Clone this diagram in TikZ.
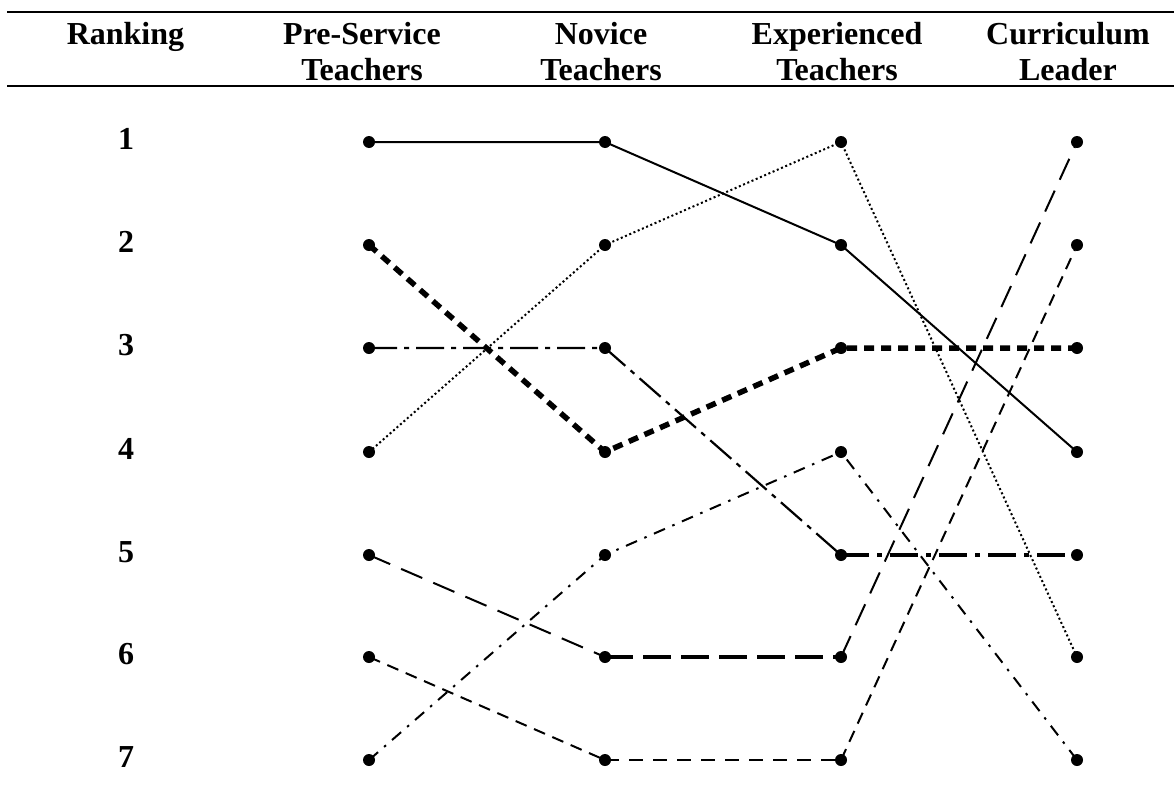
\documentclass[tikz,border=0pt]{standalone}
\usepackage{fontspec}
\setmainfont{Liberation Serif}
\begin{document}
\begin{tikzpicture}[x=1pt,y=-1pt,
  dotnode/.style={circle,fill=black,inner sep=0pt,minimum size=12pt},
  headtext/.style={font=\bfseries\fontsize{32}{36}\selectfont,align=center,inner sep=0pt,anchor=north},
  ranktext/.style={font=\bfseries\fontsize{32}{36}\selectfont,inner sep=0pt,anchor=base},
  rule/.style={line width=2.5pt},
  solidline/.style={line width=2pt},
  finedot/.style={line width=2pt,dash pattern=on 2pt off 2.6pt},
  thickdash/.style={line width=5.5pt,dash pattern=on 10pt off 7pt},
  longdashdot/.style={line width=2.2pt,dash pattern=on 28pt off 7pt on 5pt off 7pt},
  longdashdotthick/.style={line width=3.2pt,dash pattern=on 28pt off 8pt on 5pt off 8pt},
  shortdashdot/.style={line width=2pt,dash pattern=on 12pt off 8pt on 2.5pt off 8pt},
  longdash/.style={line width=2pt,dash pattern=on 23pt off 12pt},
  longdashthick/.style={line width=3.2pt,dash pattern=on 28pt off 10pt},
  shortdash/.style={line width=2pt,dash pattern=on 12pt off 8pt},
  shortdashthick/.style={line width=2.8pt,dash pattern=on 14pt off 10pt}
]
\useasboundingbox (0,0) rectangle (1174,806);
% rules
\coordinate (tl) at (7,12); \coordinate (tr) at (1174,12);
\coordinate (bl) at (7,86); \coordinate (br) at (1174,86);
\draw[rule] (tl) -- (tr);
\draw[rule] (bl) -- (br);
% headers
\node[headtext] (hr) at (125.5,21.6) {Ranking};
\node[headtext] (hp) at (362,21.6) {Pre-Service\\Teachers};
\node[headtext] (hn) at (601,21.6) {Novice\\Teachers};
\node[headtext] (he) at (837,21.6) {Experienced\\Teachers};
\node[headtext] (hc) at (1068,21.6) {Curriculum\\Leader};
% rank numbers and dots
\foreach \r/\yy in {1/142,2/245,3/348,4/452,5/555,6/657,7/760}{
  \node[ranktext] (r\r) at (126,\yy+7) {\r};
  \node[dotnode] (p\r) at (369,\yy) {};
  \node[dotnode] (n\r) at (605,\yy) {};
  \node[dotnode] (e\r) at (841,\yy) {};
  \node[dotnode] (c\r) at (1077,\yy) {};
}
% connectors
\draw[solidline] (p1.center) -- (n1.center) -- (e2.center) -- (c4.center);
\draw[finedot] (p4.center) -- (n2.center) -- (e1.center) -- (c6.center);
\draw[thickdash] (p2.center) -- (n4.center) -- (e3.center) -- (c3.center);
\draw[longdashdot] (p3.center) -- (n3.center) -- (e5.center);
\draw[longdashdotthick] (e5.center) -- (c5.center);
\draw[shortdashdot] (p7.center) -- (n5.center) -- (e4.center) -- (c7.center);
\draw[longdash] (p5.center) -- (n6.center);
\draw[longdashthick] (n6.center) -- (e6.center);
\draw[longdash] (e6.center) -- (c1.center);
\draw[shortdash] (p6.center) -- (n7.center);
\draw[shortdashthick] (n7.center) -- (e7.center);
\draw[shortdash] (e7.center) -- (c2.center);
\end{tikzpicture}
\end{document}
